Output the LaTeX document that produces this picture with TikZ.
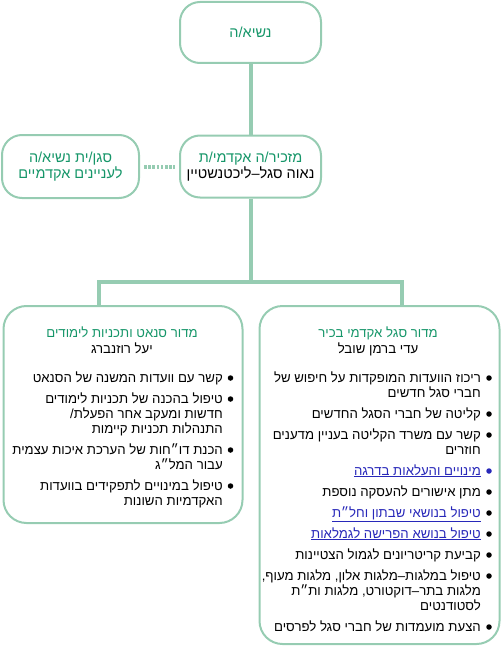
\documentclass[tikz,border=0pt]{standalone}
\usepackage{fontspec}
\setmainfont[Script=Hebrew]{Liberation Sans}
\TeXXeTstate=1
\definecolor{boxline}{RGB}{150,204,178}
\definecolor{ttl}{RGB}{22,150,105}
\definecolor{lnk}{RGB}{40,40,185}
\newcommand{\RL}[1]{\beginR #1\endR}
\begin{document}
\begin{tikzpicture}[x=1pt,y=-1pt,
  box/.style={draw=boxline,line width=2pt,rounded corners=20pt,inner sep=0pt},
  bigbox/.style={box,rounded corners=23pt,anchor=north west},
  conn/.style={draw=boxline,line width=4pt},
  dotconn/.style={draw=boxline,line width=4pt,dash pattern=on 2.6pt off 1.6pt,shorten <=4pt,shorten >=4pt},
  txt/.style={inner sep=0pt,font=\fontsize{13.2}{15}\selectfont},
  bigtxt/.style={inner sep=0pt,font=\fontsize{14.5}{15.5}\selectfont},
  ttltext/.style={txt,text=ttl,anchor=base,yshift=-4pt},
  nametext/.style={txt,anchor=base,yshift=-4pt},
  itemline/.style={txt,anchor=base east,yshift=-4pt},
  linkline/.style={itemline,text=lnk},
  bul/.style={circle,fill=black,inner sep=0pt,minimum size=5.5pt},
  linkbul/.style={bul,fill=lnk}]
\useasboundingbox (0,0) rectangle (501,650);

% top level boxes
\node[box,minimum width=141pt,minimum height=61pt,align=center,bigtxt,text=ttl] (top) at (250.5,32.5) {\RL{נשיא/ה}};
\node[box,minimum width=141pt,minimum height=62pt,align=center,bigtxt] (mid) at (250.5,166.5)
  {\textcolor{ttl}{\RL{מזכיר/ה אקדמי/ת}}\\\RL{נאוה סגל–ליכטנשטיין}};
\node[box,minimum width=137pt,minimum height=63pt,align=center,bigtxt,text=ttl] (vp) at (70.5,166.5)
  {\RL{סגן/ית נשיא/ה}\\\RL{לעניינים אקדמיים}};

% bottom boxes
\node[bigbox,minimum width=239pt,minimum height=217pt] (lbox) at (2.5,305) {};
\node[bigbox,minimum width=240pt,minimum height=338pt] (rbox) at (258.5,305) {};

% connectors
\coordinate (jl) at (99,282);
\coordinate (jr) at (402,282);
\draw[conn] (top.south) -- (mid.north);
\draw[conn] (mid.south) -- (mid.south |- jl);
\draw[conn] (lbox.north -| jl) -- (jl) -- (jr) -- (rbox.north -| jr);
\draw[dotconn] (vp.east) -- (mid.west);

% right box
\node[ttltext] (rt) at (378,333) {\RL{מדור סגל אקדמי בכיר}};
\node[nametext] (rn) at (378,349) {\RL{עדי ברמן שובל}};
\node[bul] (rd1) at (489,378) {};
\node[itemline] (r1a) at (481,378) {\RL{ריכוז הוועדות המופקדות על חיפוש של}};
\node[itemline] (r1b) at (481,393) {\RL{חברי סגל חדשים}};
\node[bul] (rd2) at (489,414) {};
\node[itemline] (r2) at (481,414) {\RL{קליטה של חברי הסגל החדשים}};
\node[bul] (rd3) at (489,435) {};
\node[itemline] (r3a) at (481,435) {\RL{קשר עם משרד הקליטה בעניין מדענים}};
\node[itemline] (r3b) at (481,450) {\RL{חוזרים}};
\node[linkbul] (rd4) at (489,471) {};
\node[linkline] (r4) at (481,471) {\underline{\RL{מינויים והעלאות בדרגה}}};
\node[bul] (rd5) at (489,492) {};
\node[itemline] (r5) at (481,492) {\RL{מתן אישורים להעסקה נוספת}};
\node[bul] (rd6) at (489,513) {};
\node[linkline] (r6) at (481,513) {\underline{\RL{טיפול בנושאי שבתון וחל״ת}}};
\node[bul] (rd7) at (489,534) {};
\node[linkline] (r7) at (481,534) {\underline{\RL{טיפול בנושא הפרישה לגמלאות}}};
\node[bul] (rd8) at (489,555) {};
\node[itemline] (r8) at (481,555) {\RL{קביעת קריטריונים לגמול הצטיינות}};
\node[bul] (rd9) at (489,576) {};
\node[itemline] (r9a) at (481,576) {\RL{טיפול במלגות–מלגות אלון, מלגות מעוף,}};
\node[itemline] (r9b) at (481,591) {\RL{מלגות בתר–דוקטורט, מלגות ות״ת}};
\node[itemline] (r9c) at (481,606) {\RL{לסטודנטים}};
\node[bul] (rd10) at (489,627) {};
\node[itemline] (r10) at (481,627) {\RL{הצעת מועמדות של חברי סגל לפרסים}};

% left box
\node[ttltext] (lt) at (122,333) {\RL{מדור סנאט ותכניות לימודים}};
\node[nametext] (ln) at (122,349) {\RL{יעל רוזנברג}};
\node[bul] (ld1) at (230.5,378) {};
\node[itemline] (l1) at (223,378) {\RL{קשר עם וועדות המשנה של הסנאט}};
\node[bul] (ld2) at (230.5,399) {};
\node[itemline] (l2a) at (223,399) {\RL{טיפול בהכנה של תכניות לימודים}};
\node[itemline] (l2b) at (223,414) {\RL{חדשות ומעקב אחר הפעלת/}};
\node[itemline] (l2c) at (223,429) {\RL{התנהלות תכניות קיימות}};
\node[bul] (ld3) at (230.5,450) {};
\node[itemline] (l3a) at (223,450) {\RL{הכנת דו״חות של הערכת איכות עצמית}};
\node[itemline] (l3b) at (223,465) {\RL{עבור המל״ג}};
\node[bul] (ld4) at (230.5,486) {};
\node[itemline] (l4a) at (223,486) {\RL{טיפול במינויים לתפקידים בוועדות}};
\node[itemline] (l4b) at (223,501) {\RL{האקדמיות השונות}};
\end{tikzpicture}
\end{document}
